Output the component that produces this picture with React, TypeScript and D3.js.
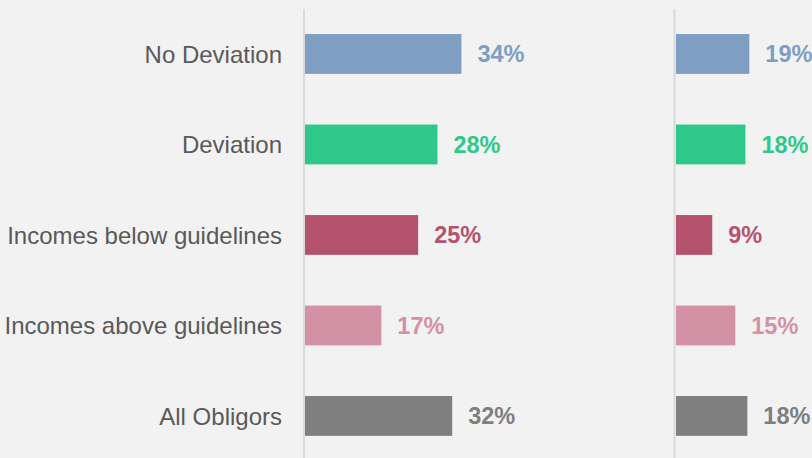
import { useEffect, useRef } from "react";
import * as d3 from "d3";

const categories = [
  "No Deviation",
  "Deviation",
  "Incomes below guidelines",
  "Incomes above guidelines",
  "All Obligors",
];
// bar lengths (percent)
const leftValues = [34, 28.8, 24.6, 16.6, 32];
const rightValues = [18.8, 17.8, 9.3, 15.2, 18.3];
// printed labels
const leftLabels = ["34%", "28%", "25%", "17%", "32%"];
const rightLabels = ["19%", "18%", "9%", "15%", "18%"];
const colors = ["#7f9ec3", "#2ec98a", "#b5536f", "#d391a6", "#7f7f7f"];

export default function App() {
  const ref = useRef<SVGSVGElement>(null);

  useEffect(() => {
    const svg = d3.select(ref.current!);
    svg.selectAll("*").remove();
    const w = 812,
      h = 458;

    svg.append("rect").attr("width", w).attr("height", h).attr("fill", "#f2f2f2");

    const y = d3
      .scaleBand()
      .domain(categories)
      .range([8.7, 461.2])
      .paddingInner(0.56)
      .paddingOuter(0.28);

    const panels = [
      { x: d3.scaleLinear().domain([0, 40]).range([305, 489]), values: leftValues, labels: leftLabels, axis: 304 },
      { x: d3.scaleLinear().domain([0, 40]).range([676, 832]), values: rightValues, labels: rightLabels, axis: 674.5 },
    ];

    panels.forEach((p) => {
      const g = svg.append("g");
      g.selectAll("rect")
        .data(categories)
        .join("rect")
        .attr("x", p.x(0))
        .attr("y", (d) => y(d)!)
        .attr("width", (d, i) => p.x(p.values[i]) - p.x(0))
        .attr("height", y.bandwidth())
        .attr("fill", (d, i) => colors[i]);

      g.selectAll("text")
        .data(categories)
        .join("text")
        .attr("x", (d, i) => p.x(p.values[i]) + 16)
        .attr("y", (d) => y(d)! + y.bandwidth() / 2)
        .attr("dy", "0.36em")
        .attr("fill", (d, i) => colors[i])
        .attr("font-family", "'Liberation Sans', Arial, sans-serif")
        .attr("font-size", 23.5)
        .attr("font-weight", "bold")
        .text((d, i) => p.labels[i]);

      svg
        .append("line")
        .attr("x1", p.axis)
        .attr("x2", p.axis)
        .attr("y1", 9)
        .attr("y2", h)
        .attr("stroke", "#d9d9d9")
        .attr("stroke-width", 2);
    });

    svg
      .append("g")
      .selectAll("text")
      .data(categories)
      .join("text")
      .attr("x", 282)
      .attr("y", (d) => y(d)! + y.bandwidth() / 2)
      .attr("dy", "0.36em")
      .attr("text-anchor", "end")
      .attr("fill", "#595959")
      .attr("font-family", "'Liberation Sans', Arial, sans-serif")
      .attr("font-size", 24)
      .text((d) => d);
  }, []);

  return (
    <svg
      ref={ref}
      width={812}
      height={458}
      style={{ position: "absolute", left: 0, top: 0, display: "block" }}
    />
  );
}
